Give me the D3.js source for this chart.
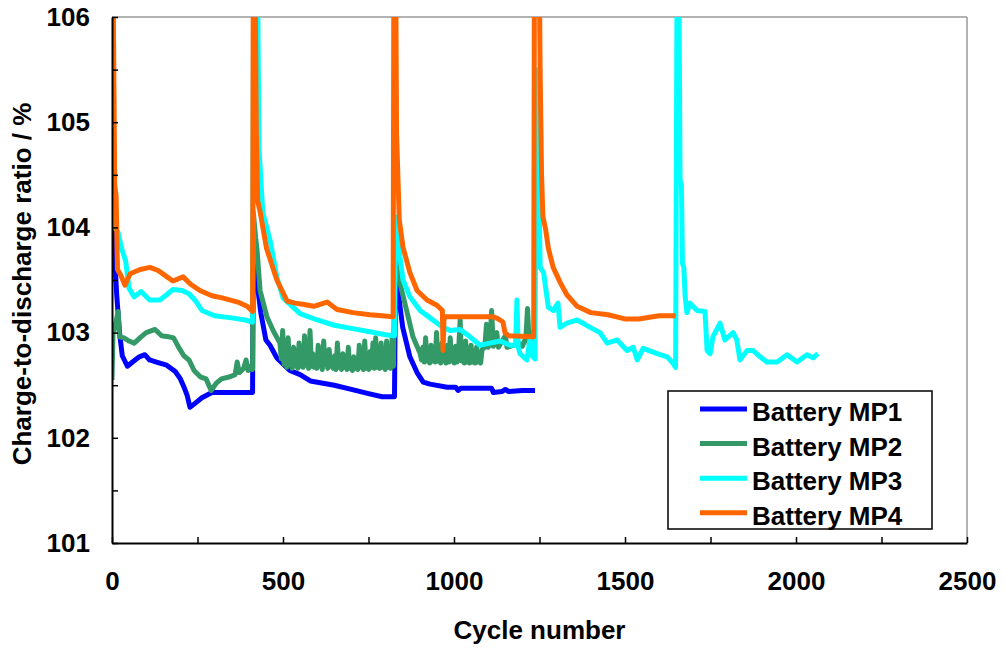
<!DOCTYPE html>
<html lang="en">
<head>
<meta charset="UTF-8">
<title>Charge-to-discharge ratio</title>
<script src="https://cdnjs.cloudflare.com/ajax/libs/d3/7.8.5/d3.min.js"></script>
<style>
    body { margin: 0; background: #fff; }
    text { font-family: Arial, "Liberation Sans", sans-serif; font-weight: bold; fill: #000; }
</style>
</head>
<body>
<div id="wrapper"></div>
<script>
// [cycle, ratio %]
const mp1 = [[0,104.3],[3,104.0],[8,103.7],[14,103.35],[22,103.0],[30,102.78],[45,102.68],[60,102.72],[80,102.77],[96,102.79],[110,102.74],[130,102.72],[160,102.69],[185,102.63],[200,102.56],[212,102.47],[220,102.4],[228,102.29],[240,102.32],[263,102.38],[292,102.43],[340,102.43],[411,102.43],
    [413,103.75],[418,103.7],[425,103.45],[435,103.19],[450,102.93],[462,102.88],[482,102.76],[520,102.64],[550,102.6],[580,102.54],[650,102.5],[700,102.46],[750,102.42],[790,102.39],[826,102.39],
    [829,103.55],[835,103.43],[850,103.05],[871,102.77],[892,102.62],[910,102.53],[930,102.51],[980,102.48],[1005,102.48],[1012,102.45],[1020,102.47],[1060,102.47],[1110,102.47],[1115,102.43],[1140,102.44],[1150,102.46],[1160,102.44],[1200,102.45],[1237,102.45]];

const mp2 = [[0,102.55],[3,103.0],[8,103.05],[18,103.2],[22,102.96],[35,102.95],[50,102.92],[65,102.9],[85,102.96],[100,103.0],[126,103.03],[145,102.97],[165,102.96],[180,102.95],[195,102.86],[210,102.78],[225,102.74],[240,102.64],[258,102.58],[275,102.56],[290,102.45],[305,102.52],[320,102.56],[345,102.58],[360,102.6],[366,102.72],[372,102.62],[385,102.66],[392,102.74],[398,102.64],[405,102.68],[411,102.65],
    [413,104.15],[420,103.9],[424,103.79],[433,103.4],[453,103.15],[471,103.02],[491,102.9],
    [495,102.75],[499,103.02],[503,102.7],[507,102.78],[511,102.67],[515,102.95],[519,102.7],[523,102.76],[527,102.66],[531,102.86],[535,102.69],[539,102.74],[543,102.66],[547,102.9],[551,102.68],[555,102.75],[559,102.67],[563,102.97],[567,102.69],[571,102.77],[575,102.66],[579,103.02],[583,102.68],[587,102.8],[591,102.67],[595,102.74],[599,102.66],[603,102.88],[607,102.68],[611,102.76],[615,102.65],[619,102.92],[623,102.7],[627,102.75],[631,102.66],[635,102.84],[639,102.68],[643,102.73],[647,102.66],[651,102.78],[655,102.65],[659,102.9],[663,102.67],[667,102.74],[671,102.65],[675,102.8],[679,102.67],[683,102.72],[687,102.65],[691,102.86],[695,102.66],[699,102.74],[703,102.64],[707,102.77],[711,102.66],[715,102.72],[719,102.65],[723,102.88],[727,102.67],[731,102.75],[735,102.65],[739,102.92],[743,102.66],[747,102.74],[751,102.65],[755,102.82],[759,102.67],[763,102.9],[767,102.66],[771,102.95],[775,102.67],[779,102.78],[783,102.66],[787,102.9],[791,102.67],[795,102.76],[799,102.65],[803,102.92],[807,102.67],[811,102.8],[815,102.66],[819,102.95],[823,102.68],
    [828,104.0],[836,103.66],[842,103.47],[863,103.19],[880,102.96],[901,102.8],
    [905,102.74],[909,102.86],[913,102.72],[917,102.95],[921,102.73],[925,102.84],[929,102.71],[933,102.88],[937,102.73],[941,102.8],[945,102.72],[949,103.0],[953,102.73],[957,102.84],[961,102.71],[965,102.9],[969,102.73],[973,102.82],[977,102.71],[981,102.88],[985,102.72],[989,102.95],[993,102.73],[997,102.84],[1001,102.71],[1005,102.87],[1009,102.72],[1013,102.8],[1018,103.12],[1022,102.73],[1026,102.86],[1030,102.71],[1034,102.92],[1038,102.72],[1042,102.83],[1046,102.71],[1050,102.88],[1054,102.72],[1058,102.82],[1062,102.71],[1066,102.86],[1070,102.72],[1074,102.8],[1078,102.71],[1082,102.84],
    [1090,102.86],[1095,103.08],[1100,102.86],[1105,102.9],[1110,103.21],[1115,102.87],[1125,103.0],[1130,102.86],[1150,102.97],[1155,102.86],[1175,102.88],[1190,102.9],[1200,102.87],[1210,102.95],[1215,103.23],[1220,102.88],[1226,103.0],[1230,102.85]];

const mp3 = [[0,104.35],[8,104.0],[18,103.95],[28,103.8],[40,103.68],[50,103.42],[65,103.34],[85,103.39],[110,103.31],[140,103.31],[160,103.36],[178,103.41],[205,103.4],[225,103.37],[245,103.3],[263,103.21],[300,103.16],[350,103.14],[390,103.12],[411,103.1],
    [414,106.2],[426,106.2],[430,104.74],[441,104.14],[462,103.88],[482,103.53],[500,103.33],[550,103.18],[600,103.12],[650,103.07],[700,103.04],[750,103.01],[800,102.98],[826,102.97],
    [829,104.1],[835,103.95],[842,103.72],[851,103.5],[871,103.34],[901,103.21],[930,103.14],[959,103.07],[988,103.02],[1018,103.03],[1047,102.96],[1076,102.88],[1105,102.9],[1135,102.92],[1164,102.88],[1180,102.88],[1184,103.31],[1188,102.86],[1193,102.8],[1213,102.74],[1222,102.93],[1228,102.78],[1237,102.75],
    [1240,105.5],[1246,105.4],[1249,104.2],[1252,103.62],[1262,103.57],[1276,103.24],[1290,103.21],[1304,103.28],[1310,103.05],[1330,103.09],[1360,103.12],[1398,103.05],[1427,103.0],[1448,102.9],[1477,102.93],[1506,102.83],[1524,102.86],[1536,102.74],[1553,102.85],[1594,102.8],[1623,102.77],[1640,102.71],[1648,102.67],
    [1652,106.2],[1658,106.2],[1661,104.45],[1665,104.4],[1668,103.66],[1672,103.62],[1676,103.34],[1681,103.19],[1690,103.28],[1711,103.21],[1734,103.2],[1740,102.83],[1749,102.8],[1757,102.96],[1778,103.09],[1792,102.93],[1816,103.0],[1827,102.93],[1836,102.74],[1857,102.83],[1874,102.83],[1895,102.77],[1915,102.72],[1945,102.72],[1974,102.79],[2003,102.72],[2032,102.79],[2050,102.76],[2064,102.8]];

const mp4 = [[0,106.2],[4,106.0],[8,104.4],[12,104.3],[16,103.6],[25,103.55],[38,103.45],[53,103.56],[82,103.6],[111,103.62],[135,103.59],[161,103.53],[178,103.49],[208,103.53],[230,103.46],[257,103.4],[292,103.35],[322,103.33],[368,103.29],[395,103.25],[411,103.2],
    [413,106.2],[419,106.2],[422,104.9],[426,104.25],[433,104.15],[441,104.0],[452,103.8],[462,103.7],[482,103.5],[500,103.38],[512,103.3],[535,103.28],[558,103.27],[590,103.25],[629,103.29],[658,103.22],[705,103.19],[754,103.17],[790,103.16],[822,103.15],
    [824,106.2],[830,106.2],[832,104.9],[840,104.07],[851,103.81],[871,103.57],[892,103.4],[921,103.31],[950,103.26],[966,103.21],[968,102.83],[971,103.15],[1115,103.15],[1130,103.13],[1143,103.1],[1149,103.0],[1160,102.97],[1233,102.96],
    [1235,106.2],[1250,106.2],[1252,105.45],[1256,104.5],[1260,104.1],[1268,103.98],[1276,103.8],[1290,103.62],[1310,103.48],[1330,103.36],[1360,103.25],[1400,103.19],[1450,103.17],[1500,103.13],[1540,103.13],[1600,103.16],[1648,103.16]];

const seriesNames = ["Battery MP1", "Battery MP2", "Battery MP3", "Battery MP4"];
const seriesColors = ["#0000ff", "#339966", "#00ffff", "#ff6600"];
const xTicks = [0, 250, 500, 750, 1000, 1250, 1500, 1750, 2000, 2250, 2500];
const yTicks = [101, 101.5, 102, 102.5, 103, 103.5, 104, 104.5, 105, 105.5, 106];

let dimensions = {
    width: 1004,
    height: 648,
    margin: { top: 17, right: 37, bottom: 105, left: 112 },
}
dimensions.boundedWidth = dimensions.width - dimensions.margin.left - dimensions.margin.right
dimensions.boundedHeight = dimensions.height - dimensions.margin.top - dimensions.margin.bottom

const svg = d3.select("#wrapper")
    .append("svg")
    .attr("width", dimensions.width)
    .attr("height", dimensions.height)
    .style("background", "#fff");

const bounds = svg.append("g")
    .attr("transform", `translate(${dimensions.margin.left},${dimensions.margin.top})`);

const xScale = d3.scaleLinear().domain([0, 2500]).range([0, dimensions.boundedWidth]);
const yScale = d3.scaleLinear().domain([101, 106]).range([dimensions.boundedHeight, 0]);

bounds.append("clipPath").attr("id", "plotClip")
    .append("rect")
    .attr("width", dimensions.boundedWidth)
    .attr("height", dimensions.boundedHeight);

// frame: grey on top / right
bounds.append("line")
    .attr("x1", 0).attr("x2", dimensions.boundedWidth)
    .attr("y1", 0).attr("y2", 0)
    .attr("stroke", "#999").attr("stroke-width", 1.5);
bounds.append("line")
    .attr("x1", dimensions.boundedWidth).attr("x2", dimensions.boundedWidth)
    .attr("y1", 0).attr("y2", dimensions.boundedHeight)
    .attr("stroke", "#999").attr("stroke-width", 1.5);

const lineGen = d3.line()
    .x(d => xScale(d[0]))
    .y(d => yScale(d[1]));

const allSeries = [mp1, mp2, mp3, mp4];
bounds.append("g")
    .attr("clip-path", "url(#plotClip)")
    .selectAll("path")
    .data(allSeries)
    .enter()
    .append("path")
    .attr("d", lineGen)
    .attr("fill", "none")
    .attr("stroke", (d, i) => seriesColors[i])
    .attr("stroke-width", 5)
    .attr("stroke-linejoin", "round");

const xAxis = bounds.append("g")
    .attr("transform", `translate(0,${dimensions.boundedHeight})`)
    .call(d3.axisBottom(xScale)
        .tickValues(xTicks)
        .tickSizeInner(-6)
        .tickSizeOuter(0)
        .tickPadding(29)
        .tickFormat(d => d % 500 === 0 ? d : ""));

const yAxis = bounds.append("g")
    .call(d3.axisLeft(yScale)
        .tickValues(yTicks)
        .tickSizeInner(-6)
        .tickSizeOuter(0)
        .tickPadding(22)
        .tickFormat(d => Number.isInteger(d) ? d : ""));

[xAxis, yAxis].forEach(ax => {
    ax.select(".domain").attr("stroke", "#000").attr("stroke-width", 2);
    ax.selectAll(".tick line").attr("stroke", "#000").attr("stroke-width", 1.5);
    ax.selectAll(".tick text").style("font-size", "26px").style("font-family", "Arial, 'Liberation Sans', sans-serif").style("font-weight", "bold");
});

svg.append("text")
    .attr("x", dimensions.margin.left + dimensions.boundedWidth / 2)
    .attr("y", 639)
    .attr("text-anchor", "middle")
    .style("font-size", "26px")
    .text("Cycle number");

svg.append("text")
    .attr("transform", "translate(31,284) rotate(-90)")
    .attr("text-anchor", "middle")
    .style("font-size", "26px")
    .text("Charge-to-discharge ratio / %");

// legend
const legend = svg.append("g");
legend.append("rect")
    .attr("x", 668).attr("y", 391)
    .attr("width", 264).attr("height", 138)
    .attr("fill", "#fff")
    .attr("stroke", "#000")
    .attr("stroke-width", 1.5);

const items = legend.selectAll("g.item")
    .data(seriesNames)
    .enter()
    .append("g")
    .attr("transform", (d, i) => `translate(0,${409 + i * 34.6})`);

items.append("line")
    .attr("x1", 700).attr("x2", 747)
    .attr("stroke", (d, i) => seriesColors[i])
    .attr("stroke-width", 5);

items.append("text")
    .attr("x", 752)
    .attr("y", 12)
    .style("font-size", "26px")
    .text(d => d);
</script>
</body>
</html>
